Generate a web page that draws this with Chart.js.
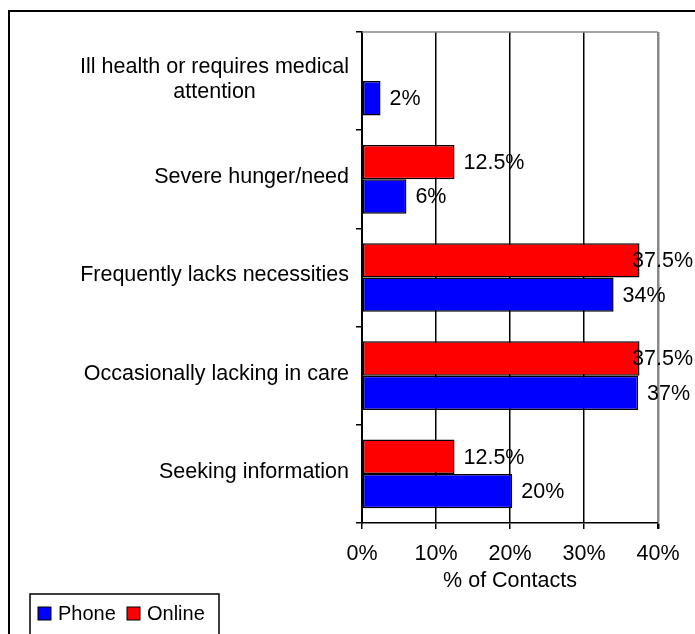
<!DOCTYPE html>
<html>
<head>
<meta charset="utf-8">
<script src="https://cdn.jsdelivr.net/npm/chart.js@4"></script>
<style>
html,body{margin:0;padding:0;background:#fff;}
canvas{display:block;}
</style>
</head>
<body>
<canvas id="chart" width="695" height="634"></canvas>
<script>
// categories, top to bottom
var categories = [['Ill health or requires medical', 'attention'], 'Severe hunger/need', 'Frequently lacks necessities', 'Occasionally lacking in care', 'Seeking information'];
// series values (% of contacts)
var phoneValues  = [2.5, 6, 34, 37.3, 20.3];
var onlineValues = [null, 12.5, 37.5, 37.5, 12.5];
// value labels as printed on the chart
var phoneLabels  = ['2%', '6%', '34%', '37%', '20%'];
var onlineLabels = [null, '12.5%', '37.5%', '37.5%', '12.5%'];
// x axis ticks
var xTicks = [0, 10, 20, 30, 40];
var xTitle = '% of Contacts';

var FONT = 'Arial, "Liberation Sans", sans-serif';
var FS = 21.5;
Chart.defaults.font.family = FONT;
Chart.defaults.font.size = FS;
Chart.defaults.color = '#000';

var ctx = document.getElementById('chart');

//畫背景、外框、Y軸文字、資料標籤、圖例
var decor = {
    id: 'decor',
    beforeDraw: function(chart){
        var c = chart.ctx;
        c.save();
        c.fillStyle = '#fff';
        c.fillRect(0, 0, chart.width, chart.height);
        c.restore();
    },
    afterDatasetsDraw: function(chart){
        var c = chart.ctx;
        c.save();
        c.font = FS + 'px ' + FONT;
        c.fillStyle = '#000';
        c.textAlign = 'left';
        c.textBaseline = 'middle';
        chart.data.datasets.forEach(function(ds, i){
            var meta = chart.getDatasetMeta(i);
            meta.data.forEach(function(bar, j){
                var txt = ds.valueLabels[j];
                if (txt == null) return;
                var w = c.measureText(txt).width;
                var x = Math.min(bar.x + 9, chart.width - 2 - w);
                c.fillText(txt, x, bar.y + 1);
            });
        });
        c.restore();
    },
    afterDraw: function(chart){
        var c = chart.ctx;
        var area = chart.chartArea;
        var yScale = chart.scales.y;
        c.save();
        // plot area top line (gray)
        c.strokeStyle = '#888';
        c.lineWidth = 1.5;
        c.beginPath();
        c.moveTo(area.left, area.top);
        c.lineTo(area.right, area.top);
        c.stroke();

        // y category labels, multi-line centered block, right aligned
        c.font = FS + 'px ' + FONT;
        c.fillStyle = '#000';
        c.textAlign = 'center';
        c.textBaseline = 'middle';
        var lineH = 25;
        categories.forEach(function(lab, i){
            var lines = Array.isArray(lab) ? lab : [lab];
            var y = yScale.getPixelForValue(i);
            var blockW = 0;
            lines.forEach(function(l){ blockW = Math.max(blockW, c.measureText(l).width); });
            var cx = area.left - 13 - blockW / 2;
            var y0 = y - 2 - (lines.length - 1) * lineH / 2;
            lines.forEach(function(l, k){ c.fillText(l, cx, y0 + k * lineH); });
        });

        // outer frame
        c.strokeStyle = '#000';
        c.lineWidth = 2;
        c.strokeRect(9, 11, 720, 700);

        // legend
        c.lineWidth = 1.5;
        c.strokeRect(30, 594, 189, 60);
        c.font = '20px ' + FONT;
        c.textAlign = 'left';
        var items = [1, 0];
        var boxX = [38, 127];
        var textX = [58, 147];
        items.forEach(function(i, k){
            var ds = chart.data.datasets[i];
            c.fillStyle = ds.backgroundColor;
            c.fillRect(boxX[k], 607, 13, 13);
            c.strokeStyle = '#000';
            c.lineWidth = 1;
            c.strokeRect(boxX[k], 607, 13, 13);
            c.fillStyle = '#000';
            c.fillText(ds.label, textX[k], 614);
        });
        c.restore();
    }
};

var barChart = new Chart(ctx, {
    type: 'bar',
    data: {
        labels: categories,
        datasets: [{
            label: 'Online',
            data: onlineValues,
            valueLabels: onlineLabels,
            backgroundColor: '#ff0000',
            borderColor: '#000',
            borderWidth: 1.5,
            borderSkipped: false
        }, {
            label: 'Phone',
            data: phoneValues,
            valueLabels: phoneLabels,
            backgroundColor: '#0000ff',
            borderColor: '#000',
            borderWidth: 1.5,
            borderSkipped: false
        }]
    },
    options: {
        indexAxis: 'y',
        responsive: false,
        animation: false,
        categoryPercentage: 0.7,
        barPercentage: 1.0,
        layout: { padding: { left: 10, top: 32, right: 37, bottom: 0 } },
        plugins: {
            legend: { display: false },
            tooltip: { enabled: false }
        },
        scales: {
            x: {
                min: 0,
                max: 40,
                afterBuildTicks: function(s){ s.ticks = xTicks.map(function(v){ return {value: v}; }); },
                afterFit: function(s){ s.height = 111; },
                ticks: {
                    callback: function(v){ return v + '%'; },
                    padding: 12,
                    maxRotation: 0,
                    color: '#000',
                    font: { size: FS }
                },
                grid: {
                    color: function(c){ return c.tick && c.tick.value === 40 ? '#888' : '#000'; },
                    tickColor: '#000',
                    lineWidth: function(c){ return c.tick && c.tick.value === 40 ? 2.5 : 1.5; },
                    tickLength: 6
                },
                border: { color: '#000', width: 1.5 },
                title: {
                    display: true,
                    text: xTitle,
                    color: '#000',
                    font: { size: FS },
                    padding: { top: 0, bottom: 40 }
                }
            },
            y: {
                afterFit: function(s){ s.width = 352; },
                ticks: { display: false },
                grid: {
                    display: true,
                    drawOnChartArea: false,
                    drawTicks: true,
                    tickLength: 6,
                    color: '#000',
                    lineWidth: 1.5,
                    offset: true
                },
                border: { color: '#000', width: 2 }
            }
        }
    },
    plugins: [decor]
});
</script>
</body>
</html>
